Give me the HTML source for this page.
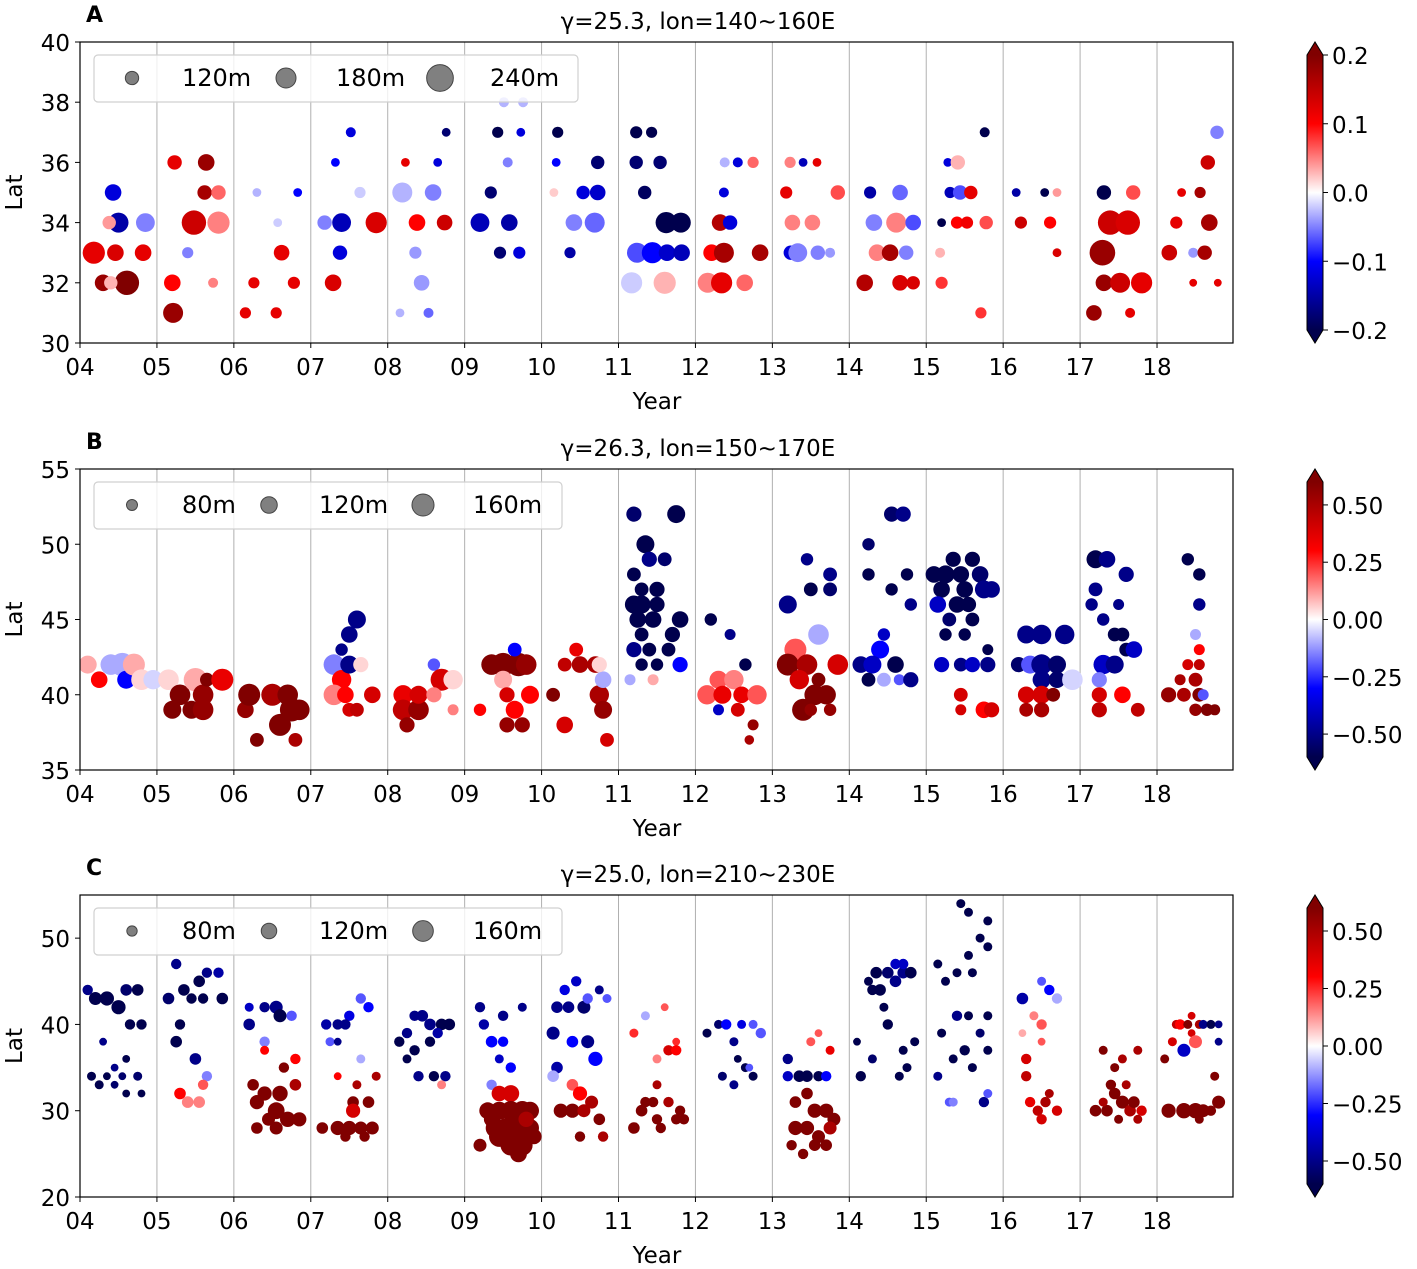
<!DOCTYPE html>
<html><head><meta charset="utf-8">
<style>
html,body{margin:0;padding:0;background:#fff;}
svg{display:block;font-family:"DejaVu Sans","Liberation Sans",sans-serif;}
</style></head>
<body>
<svg id="chart" width="1417" height="1269" viewBox="0 0 1417 1269" xmlns="http://www.w3.org/2000/svg">
<defs>
<linearGradient id="seis" x1="0" y1="1" x2="0" y2="0">
<stop offset="0" stop-color="rgb(0,0,77)"/>
<stop offset="0.25" stop-color="rgb(0,0,255)"/>
<stop offset="0.5" stop-color="rgb(255,255,255)"/>
<stop offset="0.75" stop-color="rgb(255,0,0)"/>
<stop offset="1" stop-color="rgb(128,0,0)"/>
</linearGradient>
</defs>
</svg>
<script>
// ---- Panel A data: year, lat, value, depth ----
const yearsA=[4.18,4.3,4.43,4.5,4.38,4.85,4.46,4.82,4.61,4.4,5.23,5.2,5.21,5.4,5.64,5.62,5.8,5.48,5.8,5.73,6.15,6.55,6.26,6.3,6.62,6.78,6.83,6.57,7.29,7.38,7.4,7.18,7.52,7.32,7.85,7.64,8.19,8.23,8.38,8.36,8.44,8.53,8.16,8.59,8.65,8.76,8.74,9.43,9.51,9.76,9.34,9.56,9.2,9.58,9.46,9.71,9.73,10.21,10.19,10.16,10.73,10.54,10.73,10.42,10.69,10.37,11.23,11.43,11.23,11.54,11.34,11.62,11.81,11.24,11.44,11.63,11.82,11.17,11.6,12.16,12.34,12.64,12.21,12.37,12.32,12.45,12.37,12.55,12.38,12.75,12.84,13.18,13.23,13.4,13.58,13.26,13.52,13.24,13.33,13.59,13.75,13.85,14.27,14.66,14.32,14.61,14.83,14.36,14.53,14.74,14.2,14.66,14.83,15.28,15.41,15.31,15.44,15.58,15.2,15.4,15.53,15.78,15.18,15.2,15.71,15.76,16.17,16.54,16.7,16.23,16.61,16.7,17.31,17.69,17.39,17.62,17.29,17.31,17.52,17.8,17.18,17.65,18.16,18.25,18.32,18.56,18.47,18.62,18.68,18.66,18.78,18.47,18.79];
const latsA=[33,32,35,34,34,34,33,33,32,32,36,32,31,33,36,35,35,34,34,32,31,31,32,35,33,32,35,34,32,33,34,34,37,36,34,35,35,36,34,33,32,31,31,35,36,37,34,37,38,38,35,36,34,34,33,33,37,37,36,35,36,35,35,34,34,33,37,37,36,36,35,34,34,33,33,33,33,32,32,32,32,32,33,33,34,34,35,36,36,36,33,35,36,36,36,34,34,33,33,33,33,35,35,35,34,34,34,33,33,33,32,32,32,36,36,35,35,35,34,34,34,34,33,32,31,37,35,35,35,34,34,33,35,35,34,34,33,32,32,32,31,31,33,34,35,35,33,33,34,36,37,32,32];
const valsA=[0.12,0.18,-0.12,-0.15,0.04,-0.05,0.13,0.12,0.2,0.03,0.12,0.1,0.18,-0.05,0.18,0.17,0.06,0.14,0.05,0.05,0.12,0.12,0.12,-0.03,0.12,0.12,-0.1,-0.02,0.13,-0.12,-0.14,-0.05,-0.12,-0.1,0.13,-0.02,-0.03,0.12,0.1,-0.04,-0.04,-0.06,-0.03,-0.05,-0.12,-0.18,0.14,-0.2,-0.03,-0.03,-0.18,-0.05,-0.14,-0.15,-0.18,-0.12,-0.12,-0.2,-0.1,0.02,-0.18,-0.12,-0.13,-0.05,-0.06,-0.15,-0.2,-0.2,-0.18,-0.18,-0.19,-0.2,-0.2,-0.07,-0.1,-0.13,-0.14,-0.02,0.03,0.05,0.12,0.06,0.1,0.17,0.16,-0.12,-0.12,-0.12,-0.03,0.06,0.17,0.12,0.05,-0.14,0.12,0.05,0.05,-0.12,-0.05,-0.05,-0.04,0.07,-0.15,-0.06,-0.05,0.05,-0.07,0.05,0.17,-0.05,0.16,0.13,0.13,-0.12,0.03,-0.14,-0.07,0.12,-0.2,0.1,0.11,0.07,0.03,0.08,0.08,-0.2,-0.15,-0.2,0.04,0.14,0.1,0.13,-0.2,0.07,0.14,0.13,0.18,0.18,0.14,0.12,0.18,0.12,0.14,0.12,0.12,0.17,-0.04,0.17,0.17,0.14,-0.05,0.12,0.12];
const depthsA=[200,150,150,180,120,170,150,150,220,120,130,150,180,100,150,130,130,220,200,90,100,100,100,80,140,110,80,80,150,130,170,130,90,80,190,100,180,80,150,110,140,90,80,150,80,80,140,100,90,90,110,90,170,150,110,110,80,100,80,80,120,120,140,150,180,100,110,100,120,120,120,190,180,180,190,150,150,190,200,180,190,150,150,180,150,130,90,90,90,100,150,110,100,80,80,140,140,130,170,130,90,130,110,140,150,180,140,150,150,130,150,140,120,80,130,100,130,120,80,110,110,120,90,110,100,90,80,80,80,110,110,80,130,130,220,220,230,150,180,190,140,90,140,110,80,100,90,130,150,130,120,70,70];
// ---- Panel B data ----
const yearsB=[4.1,4.25,4.4,4.55,4.6,4.7,4.8,4.95,5.15,5.2,5.3,5.45,5.5,5.6,5.6,5.65,5.85,6.15,6.2,6.3,6.5,6.6,6.7,6.75,6.8,6.85,7.3,7.4,7.5,7.5,7.6,7.5,7.6,7.3,7.45,7.8,7.65,7.4,8.2,8.2,8.25,8.4,8.4,8.6,8.7,8.85,8.6,8.85,9.2,9.35,9.5,9.7,9.8,9.65,9.5,9.55,9.65,9.55,9.75,9.85,10.15,10.3,10.3,10.45,10.5,10.7,10.75,10.8,10.8,10.85,10.75,11.2,11.35,11.75,11.4,11.6,11.2,11.3,11.5,11.2,11.3,11.5,11.8,11.25,11.45,11.3,11.7,11.2,11.4,11.65,11.3,11.5,11.8,11.15,11.45,12.2,12.45,12.65,12.15,12.3,12.5,12.6,12.8,12.3,12.55,12.75,12.7,12.35,13.2,13.45,13.5,13.75,13.75,13.45,13.6,13.3,13.2,13.45,13.85,13.35,13.55,13.4,13.7,13.5,13.75,13.6,14.25,14.55,14.7,14.25,14.55,14.75,14.8,14.45,14.4,14.15,14.3,14.6,14.25,14.45,14.65,14.8,15.1,15.25,15.35,15.6,15.45,15.7,15.2,15.5,15.75,15.85,15.15,15.4,15.55,15.3,15.6,15.25,15.5,15.8,15.2,15.45,15.6,15.8,15.45,15.7,15.45,15.75,15.85,16.3,16.5,16.8,16.2,16.35,16.5,16.7,16.5,16.7,16.3,16.5,16.65,16.3,16.5,16.9,17.2,17.35,17.6,17.2,17.5,17.15,17.3,17.45,17.55,17.6,17.7,17.3,17.45,17.25,17.25,17.55,17.25,17.75,18.4,18.55,18.55,18.5,18.55,18.4,18.55,18.3,18.5,18.15,18.35,18.55,18.6,18.5,18.65,18.75];
const latsB=[42,41,42,42,41,42,41,41,41,39,40,39,41,40,39,41,41,39,40,37,40,38,40,39,37,39,42,41,42,44,45,39,39,40,40,40,42,43,40,39,38,39,40,42,41,39,40,41,39,42,42,42,42,43,41,40,39,38,38,40,40,38,42,43,42,42,40,41,39,37,42,52,50,52,49,49,48,47,47,46,46,46,45,45,45,44,44,43,43,43,42,42,42,41,41,45,44,42,40,41,41,40,40,39,39,38,37,40,46,49,47,48,47,44,44,43,42,42,42,41,40,39,40,39,39,41,50,52,52,48,47,48,46,44,43,42,42,42,41,41,41,41,48,48,49,49,48,48,47,47,47,47,46,46,46,45,45,44,44,43,42,42,42,42,40,40,39,39,39,44,44,44,42,42,42,42,41,41,40,40,40,39,39,41,49,49,48,47,46,46,45,44,44,43,43,42,42,41,40,40,39,39,49,48,46,44,43,42,42,41,41,40,40,40,40,39,39,39];
const valsB=[0.1,0.3,-0.1,-0.1,-0.3,0.1,0.05,-0.05,0.05,0.6,0.6,0.6,0.1,0.55,0.55,0.6,0.35,0.55,0.6,0.6,0.5,0.6,0.6,0.6,0.5,0.6,-0.15,0.3,-0.5,-0.5,-0.5,0.4,0.45,0.15,0.3,0.4,0.05,-0.5,0.35,0.45,0.55,0.55,0.4,-0.2,0.4,0.15,0.15,0.05,0.3,0.6,0.6,0.6,0.55,-0.3,0.1,0.4,0.3,0.55,0.55,0.3,0.6,0.4,0.45,0.35,0.5,0.5,0.5,-0.1,0.55,0.4,0.05,-0.55,-0.6,-0.6,-0.5,-0.55,-0.6,-0.6,-0.6,-0.6,-0.6,-0.6,-0.6,-0.6,-0.6,-0.6,-0.6,-0.5,-0.6,-0.6,-0.6,-0.6,-0.3,-0.1,0.1,-0.6,-0.5,-0.6,0.2,0.2,0.15,0.35,0.2,-0.4,0.4,0.55,0.5,0.35,-0.5,-0.5,-0.6,-0.5,-0.55,0,-0.1,0.2,0.6,0.5,0.4,0.4,0.6,0.6,0.6,0.55,0.55,0.6,-0.55,-0.55,-0.5,-0.6,-0.6,-0.6,-0.5,-0.4,-0.3,-0.5,-0.4,-0.6,-0.6,-0.1,-0.2,-0.5,-0.6,-0.6,-0.6,-0.6,-0.6,-0.55,-0.6,-0.6,-0.5,-0.5,-0.4,-0.6,-0.6,-0.55,-0.6,-0.6,-0.6,-0.6,-0.4,-0.5,-0.4,-0.5,0.4,0,0.4,0.3,0.4,-0.5,-0.5,-0.5,-0.55,-0.2,-0.5,-0.55,-0.5,-0.55,0.4,0.4,0.6,0.5,0.5,-0.05,-0.6,-0.5,-0.5,-0.5,-0.5,-0.5,-0.5,-0.6,-0.6,-0.6,-0.4,-0.4,-0.5,-0.15,0.4,0.3,0.45,0.45,-0.6,-0.6,-0.5,-0.1,0.3,0.4,0.45,0.5,0.5,0.55,0.5,0.6,-0.2,0.55,0.6,0.6];
const depthsB=[130,120,150,170,130,160,150,140,150,130,150,130,170,150,150,100,160,120,160,100,160,160,150,170,100,150,150,140,130,120,130,100,100,150,120,120,110,90,140,150,110,150,130,90,160,80,110,140,90,150,170,170,150,100,130,110,130,110,110,130,100,120,100,100,120,120,140,120,130,100,110,110,130,130,110,100,100,100,110,130,130,110,120,120,120,100,110,110,100,100,90,90,110,80,80,90,80,90,140,130,140,120,140,80,100,80,70,130,130,90,100,100,100,150,150,160,160,150,150,140,150,160,140,90,90,100,90,110,110,90,90,90,90,90,130,120,130,120,100,100,80,110,120,130,110,110,120,120,120,120,130,120,120,120,110,100,100,90,90,80,110,100,110,110,100,100,80,120,110,130,140,140,110,130,150,130,130,120,120,130,100,100,110,150,130,120,110,100,80,90,90,100,100,100,120,140,130,110,110,120,110,100,90,90,90,80,80,80,80,80,100,110,100,100,80,90,90,80];
// ---- Panel C data ----
const yearsC=[4.1,4.2,4.35,4.5,4.6,4.75,4.65,4.8,4.3,4.6,4.45,4.15,4.35,4.55,4.75,4.25,4.45,4.6,4.8,5.25,5.35,5.55,5.65,5.8,5.15,5.45,5.6,5.85,5.3,5.25,5.5,5.65,5.3,5.4,5.55,5.6,6.2,6.2,6.4,6.55,6.6,6.75,6.4,6.4,6.8,6.25,6.4,6.6,6.3,6.55,6.7,6.85,6.45,6.3,6.55,6.65,6.8,7.2,7.35,7.5,7.45,7.65,7.75,7.25,7.35,7.65,7.35,7.6,7.85,7.55,7.75,7.55,7.15,7.35,7.5,7.65,7.8,7.45,7.7,8.15,8.25,8.35,8.45,8.55,8.7,8.8,8.35,8.55,8.65,8.4,8.6,8.75,8.7,8.25,9.2,9.25,9.5,9.75,9.35,9.5,9.45,9.6,9.35,9.45,9.6,9.3,9.45,9.6,9.75,9.85,9.4,9.55,9.7,9.85,9.45,9.6,9.75,9.7,9.2,9.35,9.8,9.9,10.2,10.3,10.35,10.45,10.55,10.6,10.75,10.85,10.15,10.4,10.6,10.7,10.2,10.4,10.15,10.5,10.65,10.25,10.4,10.55,10.75,10.8,10.5,11.2,11.35,11.6,11.75,11.5,11.65,11.75,11.5,11.3,11.45,11.65,11.8,11.2,11.5,11.55,11.75,11.85,11.35,12.15,12.3,12.4,12.5,12.6,12.75,12.85,12.55,12.65,12.35,12.5,12.75,12.7,13.2,13.2,13.35,13.45,13.6,13.7,13.5,13.75,13.6,13.3,13.45,13.55,13.7,13.8,13.3,13.45,13.6,13.75,13.25,13.4,13.55,13.7,14.15,14.1,14.3,14.5,14.7,14.75,14.85,14.65,14.3,14.35,14.5,14.6,14.7,14.8,14.4,14.6,14.45,14.7,14.25,15.15,15.25,15.45,15.55,15.7,15.8,15.8,15.55,15.4,15.6,15.4,15.55,15.7,15.2,15.5,15.35,15.6,15.15,15.3,15.35,15.75,15.8,15.8,15.8,16.25,16.5,16.6,16.7,16.4,16.5,16.25,16.5,16.3,16.3,16.35,16.45,16.55,16.7,16.5,16.6,17.3,17.45,17.55,17.75,17.2,17.35,17.45,17.55,17.65,17.7,17.8,17.4,17.75,17.6,17.5,17.3,18.1,18.2,18.25,18.3,18.4,18.45,18.55,18.6,18.7,18.8,18.8,18.45,18.35,18.5,18.15,18.35,18.5,18.6,18.7,18.8,18.75,18.55,18.45,18.65];
const latsC=[44,43,43,42,44,44,40,40,38,36,35,34,34,34,34,33,33,32,32,47,44,45,46,46,43,43,43,43,40,38,36,34,32,31,31,33,42,40,42,42,41,41,38,37,36,33,32,32,31,30,29,29,29,28,28,35,33,40,40,41,40,43,42,38,38,36,34,33,34,31,31,30,28,28,28,28,28,27,27,38,39,41,41,40,40,40,37,38,39,34,34,34,33,36,42,40,41,42,38,38,36,35,33,32,32,30,30,30,30,30,28,28,28,28,27,26,26,25,26,29,29,27,42,44,42,45,42,43,44,43,39,38,38,36,35,33,34,32,31,30,30,30,29,27,27,39,41,42,38,36,37,37,33,30,31,31,30,28,29,28,29,29,31,39,40,40,38,40,40,39,36,35,34,33,34,35,36,34,34,34,34,34,38,37,39,31,32,30,30,29,28,28,27,28,26,25,26,26,34,38,36,40,37,35,38,34,44,46,46,47,46,46,44,45,42,47,45,47,45,54,53,50,52,49,48,46,46,41,41,39,39,37,36,35,34,31,31,31,32,41,37,43,45,44,43,41,40,39,38,36,34,31,30,31,30,29,32,37,35,36,37,30,30,32,31,30,31,30,33,29,33,29,31,36,38,40,40,40,41,40,40,40,40,38,39,37,38,30,30,30,30,30,31,34,29,32,32];
const valsC=[-0.5,-0.6,-0.6,-0.6,-0.55,-0.6,-0.6,-0.6,-0.5,-0.6,-0.5,-0.6,-0.6,-0.55,-0.55,-0.6,-0.55,-0.6,-0.6,-0.5,-0.6,-0.6,-0.5,-0.45,-0.55,-0.6,-0.6,-0.6,-0.6,-0.6,-0.5,-0.15,0.3,0.15,0.15,0.2,-0.4,-0.5,-0.5,-0.5,-0.6,-0.2,-0.15,0.3,0.3,0.6,0.6,0.6,0.6,0.6,0.6,0.6,0.6,0.6,0.6,0.6,0.5,-0.45,-0.5,-0.35,-0.5,-0.2,-0.3,-0.2,-0.5,-0.1,0.3,0.5,0.5,0.6,0.6,0.4,0.6,0.6,0.6,0.6,0.6,0.6,0.6,-0.6,-0.5,-0.5,-0.5,-0.5,-0.6,-0.6,-0.6,-0.6,-0.45,-0.5,-0.6,-0.5,0.15,-0.6,-0.5,-0.45,-0.5,-0.5,-0.3,-0.3,-0.4,-0.3,-0.15,0.4,0.4,0.6,0.6,0.6,0.6,0.6,0.6,0.6,0.6,0.6,0.6,0.6,0.6,0.6,0.6,0.6,0.5,0.6,-0.5,-0.35,-0.5,-0.4,-0.55,-0.2,-0.5,-0.2,-0.5,-0.3,-0.5,-0.3,-0.45,0.2,-0.1,0.3,0.5,0.6,0.6,0.5,0.6,0.5,0.6,0.25,-0.1,0.2,0.25,0.15,0.4,0.3,0.5,0.6,0.6,0.5,0.6,0.6,0.6,0.6,0.6,0.6,0.6,-0.6,-0.55,-0.3,-0.5,-0.35,-0.2,-0.2,-0.6,-0.6,-0.55,-0.5,-0.6,-0.2,-0.5,-0.4,-0.6,-0.6,-0.6,-0.3,0.2,0.35,0.2,0.6,0.6,0.6,0.6,0.6,0.6,0.6,0.6,0.5,0.6,0.6,0.6,0.6,-0.6,-0.6,-0.55,-0.6,-0.6,-0.6,-0.6,-0.6,-0.6,-0.6,-0.55,-0.4,-0.5,-0.6,-0.6,-0.5,-0.6,-0.4,-0.6,-0.6,-0.6,-0.6,-0.6,-0.6,-0.6,-0.6,-0.6,-0.6,-0.6,-0.5,-0.6,-0.55,-0.6,-0.6,-0.6,-0.6,-0.5,-0.2,-0.15,-0.5,-0.2,-0.6,-0.6,-0.45,-0.2,-0.3,-0.1,0.15,0.2,0.1,0.2,0.4,0.45,0.35,0.45,0.5,0.4,0.4,0.5,0.6,0.6,0.5,0.5,0.6,0.6,0.6,0.6,0.5,0.6,0.4,0.6,0.5,0.5,0.6,0.5,0.6,0.4,0.45,0.3,0.6,0.4,0.5,-0.5,-0.6,-0.5,-0.5,0.4,-0.4,0.2,0.6,0.6,0.6,0.6,0.6,0.6,0.6,0.6,0.6,0.6];
const depthsC=[80,100,110,110,90,90,80,80,60,60,60,70,60,60,70,70,60,60,60,80,90,90,80,80,90,80,80,90,80,90,90,80,90,90,90,80,70,90,80,100,100,80,80,70,80,90,110,120,110,130,120,110,100,90,100,80,90,80,80,80,80,80,80,70,60,70,60,70,70,90,90,110,90,110,110,100,100,80,80,80,80,80,90,90,90,90,80,80,80,80,80,80,70,70,80,80,80,70,90,80,70,80,80,120,130,130,140,150,150,140,150,160,160,140,160,160,160,130,100,120,120,120,90,80,90,80,100,80,70,70,100,90,100,110,90,90,90,110,100,110,110,100,90,80,80,70,70,60,60,70,80,80,70,90,80,80,80,90,80,80,80,80,80,70,70,80,70,70,70,80,60,70,70,70,70,60,80,80,90,90,80,80,70,70,60,90,90,110,110,100,110,110,100,100,80,80,90,90,80,60,70,80,70,70,70,70,80,90,90,80,90,90,90,90,70,80,70,70,70,70,70,70,70,70,70,70,70,80,70,70,70,80,70,70,70,70,70,80,70,70,70,90,70,80,80,70,80,60,60,80,80,80,80,80,80,80,70,70,70,70,70,90,90,90,100,90,90,80,80,70,70,70,70,70,70,70,80,70,60,70,70,70,60,60,60,100,100,110,120,120,100,80,100,70,70];
// ---- axis tick labels ----
const yearTicks=["04","05","06","07","08","09","10","11","12","13","14","15","16","17","18"];
const latTicksA=[30,32,34,36,38,40];
const latTicksB=[35,40,45,50,55];
const latTicksC=[20,30,40,50];
const cbTicksA=[0.2,0.1,0.0,-0.1,-0.2];
const cbTicksBC=[0.5,0.25,0,-0.25,-0.5];
const legendDepthsA=[120,180,240];
const legendDepthsBC=[80,120,160];

const NS="http://www.w3.org/2000/svg";
const svg=document.getElementById('chart');
function mk(tag,attrs,parent,text){const e=document.createElementNS(NS,tag);for(const k in attrs)e.setAttribute(k,attrs[k]);if(text!==undefined)e.textContent=text;(parent||svg).appendChild(e);return e;}
function seismic(t){
  t=Math.max(0,Math.min(1,t));
  const st=[[0,0,0,77],[0.25,0,0,255],[0.5,255,255,255],[0.75,255,0,0],[1,128,0,0]];
  for(let i=0;i<4;i++){if(t<=st[i+1][0]){const f=(t-st[i][0])/(st[i+1][0]-st[i][0]);
    const c=[1,2,3].map(j=>Math.round(st[i][j]+f*(st[i+1][j]-st[i][j])));return `rgb(${c[0]},${c[1]},${c[2]})`;}}
  return 'rgb(128,0,0)';
}
const X0=80,X1=1233;
function xScale(yr){return X0+(yr-4)*76.93;}

const panels=[
 {id:'a',letter:'A',title:'γ=25.3, lon=140~160E',top:42,bot:343,lmin:30,lmax:40,lticks:latTicksA,vmax:0.2,
  years:yearsA,lats:latsA,vals:valsA,depths:depthsA,rf:d=>d/18,cbt:cbTicksA,fmt:v=>(v<0?'−':'')+Math.abs(v).toFixed(1),
  legD:legendDepthsA,legW:484,legMx:[132,286,440],legTx:[182,336,490]},
 {id:'b',letter:'B',title:'γ=26.3, lon=150~170E',top:469,bot:770,lmin:35,lmax:55,lticks:latTicksB,vmax:0.6,
  years:yearsB,lats:latsB,vals:valsB,depths:depthsB,rf:d=>d/14.5,cbt:cbTicksBC,fmt:v=>(v<0?'−':'')+Math.abs(v).toFixed(2),
  legD:legendDepthsBC,legW:468,legMx:[132,269,423],legTx:[182,319,473]},
 {id:'c',letter:'C',title:'γ=25.0, lon=210~230E',top:895,bot:1197,lmin:20,lmax:55,lticks:latTicksC,vmax:0.6,
  years:yearsC,lats:latsC,vals:valsC,depths:depthsC,rf:d=>d/15.5,cbt:cbTicksBC,fmt:v=>(v<0?'−':'')+Math.abs(v).toFixed(2),
  legD:legendDepthsBC,legW:468,legMx:[132,269,423],legTx:[182,319,473]}
];

panels.forEach(p=>{
  const g=mk('g',{});
  
  
  const yScale=l=>p.bot-(l-p.lmin)/(p.lmax-p.lmin)*(p.bot-p.top);
  yearTicks.forEach((t,i)=>{
    const x=xScale(4+i);
    if(i>0){const gl=mk('line',{x1:x,x2:x,y1:p.top,y2:p.bot,stroke:'#b0b0b0','stroke-width':1},g);
      
      }
    mk('line',{x1:x,x2:x,y1:p.bot,y2:p.bot+5,stroke:'#000','stroke-width':1},g);
    const tx=mk('text',{x:x,y:p.bot+32,'font-size':23,'text-anchor':'middle'},g,t);
    
    
  });
  p.lticks.forEach(l=>{
    const y=yScale(l);
    mk('line',{x1:X0-5,x2:X0,y1:y,y2:y,stroke:'#000','stroke-width':1},g);
    const tx=mk('text',{x:X0-10,y:y+9,'font-size':23,'text-anchor':'end'},g,String(l));
    
    
  });
  const pg=mk('g',{},g);
  
  
  const clip=mk('clipPath',{id:'clip'+p.id},g);mk('rect',{x:X0,y:p.top,width:X1-X0,height:p.bot-p.top},clip);
  pg.setAttribute('clip-path','url(#clip'+p.id+')');
  p.years.forEach((_,i)=>{
    const c=mk('circle',{cx:xScale(p.years[i]).toFixed(1),cy:yScale(p.lats[i]).toFixed(1),r:p.rf(p.depths[i]).toFixed(1),fill:seismic(0.5+p.vals[i]/(2*p.vmax))},pg);
    
    
  });
  const fr=mk('rect',{x:X0,y:p.top,width:X1-X0,height:p.bot-p.top,fill:'none',stroke:'#000','stroke-width':1.2},g);
  
  
  const lg=mk('g',{},g);
  
  
  mk('rect',{x:94,y:p.top+13,width:p.legW,height:47,rx:4,fill:'#fff','fill-opacity':0.8,stroke:'#d0d0d0','stroke-width':1.2},lg);
  p.legD.forEach((d,k)=>{
    const c=mk('circle',{cx:p.legMx[k],cy:p.top+36,r:p.rf(d),fill:'#808080',stroke:'#444','stroke-width':1},lg);
    
    
    const t=mk('text',{x:p.legTx[k],y:p.top+44,'font-size':24},lg,d+'m');
    
    
  });
  const tt=mk('text',{x:698,y:p.top-13,'font-size':23,'text-anchor':'middle'},g,p.title);
  
  
  const lt=mk('text',{x:86,y:p.top-20,'font-size':22,'font-weight':'bold'},g,p.letter);
  
  
  const xl=mk('text',{x:657,y:p.bot+66,'font-size':23,'text-anchor':'middle'},g,'Year');
  
  
  const yc=(p.top+p.bot)/2;
  const yl=mk('text',{x:22,y:yc,'font-size':23,'text-anchor':'middle',transform:`rotate(-90 22 ${yc})`},g,'Lat');
  
  
  const cb=mk('g',{},g);
  
  
  const ct=p.top+13,cbb=p.bot-13,cx0=1307,cx1=1323;
  mk('rect',{x:cx0,y:ct,width:cx1-cx0,height:cbb-ct,fill:'url(#seis)'},cb);
  mk('polygon',{points:`${cx0},${ct} ${cx1},${ct} ${(cx0+cx1)/2},${p.top}`,fill:'rgb(128,0,0)'},cb);
  mk('polygon',{points:`${cx0},${cbb} ${cx1},${cbb} ${(cx0+cx1)/2},${p.bot}`,fill:'rgb(0,0,77)'},cb);
  mk('polygon',{points:`${cx0},${ct} ${(cx0+cx1)/2},${p.top} ${cx1},${ct} ${cx1},${cbb} ${(cx0+cx1)/2},${p.bot} ${cx0},${cbb}`,fill:'none',stroke:'#000','stroke-width':1},cb);
  p.cbt.forEach(v=>{
    const y=(ct+cbb)/2-v/p.vmax*(cbb-ct)/2;
    mk('line',{x1:cx1,x2:cx1+5,y1:y,y2:y,stroke:'#000','stroke-width':1},cb);
    const t=mk('text',{x:cx1+9,y:y+9,'font-size':23},cb,p.fmt(v));
    
    
  });
});
</script>
</body></html>
